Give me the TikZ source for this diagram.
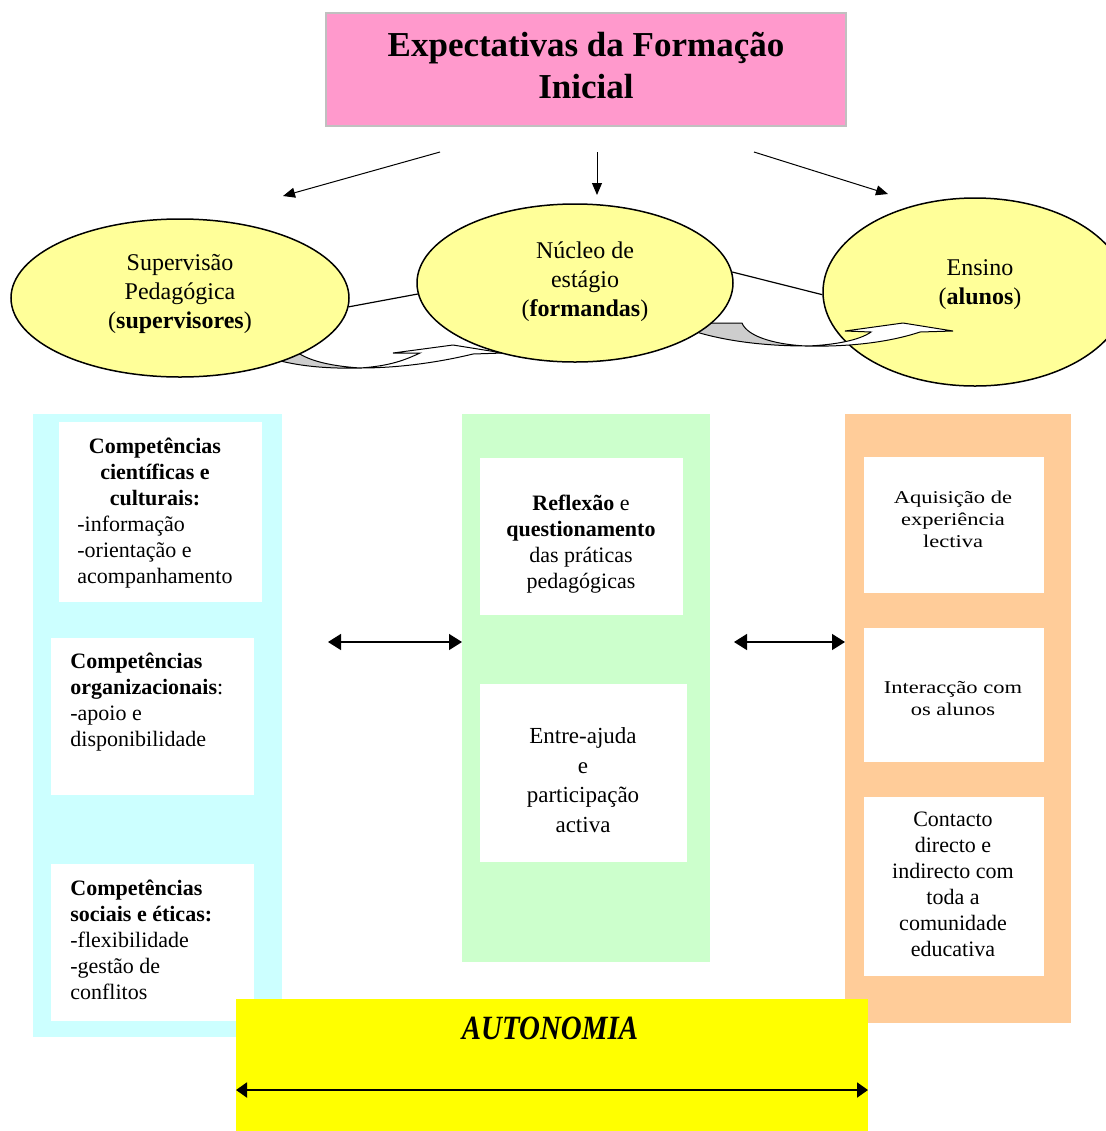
\documentclass[tikz,border=0pt]{standalone}
\usepackage{fontspec}
\setmainfont{Liberation Serif}
\newfontfamily\largo[FakeStretch=1.25]{Liberation Serif}
\newfontfamily\estreito[FakeStretch=0.85]{Liberation Serif}
\usetikzlibrary{shapes.geometric,arrows.meta}
\definecolor{rosa}{HTML}{FF99CC}
\definecolor{amarelo}{HTML}{FFFF99}
\definecolor{ciano}{HTML}{CCFFFF}
\definecolor{verde}{HTML}{CCFFCC}
\definecolor{laranja}{HTML}{FFCC99}
\definecolor{amarelao}{HTML}{FFFF00}
\definecolor{cinza}{HTML}{C0C0C0}
\newcommand{\centro}[1]{\multicolumn{1}{@{}c@{}}{#1}}
\begin{document}
\begin{tikzpicture}[x=0.5pt,y=-0.5pt,
		caixa/.style={inner sep=0pt,outer sep=0pt},
		elipse/.style={ellipse,draw,fill=amarelo,line width=0.75pt,inner sep=0pt},
		txt/.style={inner sep=0pt,align=center,font=\fontsize{11}{13}\selectfont},
		seta/.style={-{Triangle[length=6pt,width=5pt]},line width=0.5pt},
		dupla/.style={{Triangle[length=6.5pt,width=8pt]}-{Triangle[length=6.5pt,width=8pt]},line width=0.7pt}]
	% 边界
	\useasboundingbox (0,0) rectangle (1105,1131);
	% 标题
	\node[caixa,fill=rosa,draw=cinza,line width=0.6pt,minimum width=260pt,minimum height=56.5pt] (titulo) at (586,69.5) {};
	\node[txt,font=\fontsize{17.5}{21}\selectfont\bfseries] (ttitulo) at (586,65) {Expectativas da Formação\\Inicial};
	% 三个箭头
	\coordinate (s1) at (440,152); \coordinate (e1) at (283,196);
	\coordinate (s2) at (597,152); \coordinate (e2) at (597,195);
	\coordinate (s3) at (754,152); \coordinate (e3) at (888,194);
	\draw[seta] (s1) -- (e1);
	\draw[seta] (s2) -- (e2);
	\draw[seta] (s3) -- (e3);
	% 弯箭头（背面）
	\filldraw[fill=cinza!80,line width=0.5pt] (250,350) .. controls (280,365) and (320,369) .. (360,368) .. controls (330,366) and (300,360) .. (290,345) -- cycle;
	\filldraw[fill=white,line width=0.5pt] (360,368) .. controls (390,366) and (405,360) .. (420,353) -- (393,353) -- (453,345) -- (503,353) -- (473,354) .. controls (440,362) and (400,368) .. (360,368) -- cycle;
	\filldraw[fill=cinza!80,line width=0.5pt] (705,323) -- (742,323) .. controls (748,338) and (780,345) .. (807,346) .. controls (760,346) and (720,340) .. (690,330) -- cycle;
	% 椭圆
	\node[elipse,minimum width=169pt,minimum height=79pt] (sup) at (180,298) {};
	\node[elipse,minimum width=158pt,minimum height=79pt] (nuc) at (575,283) {};
	\node[elipse,minimum width=152pt,minimum height=94pt] (ens) at (975,292) {};
	\node[txt,font=\fontsize{12}{14.5}\selectfont] (tsup) at (180,294) {Supervisão\\Pedagógica\\(\textbf{supervisores})};
	\node[txt,font=\fontsize{12}{14.5}\selectfont] (tnuc) at (585,282) {Núcleo de\\estágio\\(\textbf{formandas})};
	\node[txt,font=\fontsize{12}{14.5}\selectfont] (tens) at (980,285) {Ensino\\(\textbf{alunos})};
	% 连线
	\draw[line width=0.6pt] (sup.-3) -- (nuc.184);
	\draw[line width=0.6pt] (nuc.4) -- (ens.181);
	% 弯箭头（正面）
	\filldraw[fill=white,line width=0.5pt] (807,346) .. controls (835,345) and (860,340) .. (871,332) -- (845,331) -- (903,323) -- (953,331) -- (920,332) .. controls (890,342) and (850,347) .. (807,346) -- cycle;
	% 三列
	\node[caixa,fill=ciano,minimum width=124.5pt,minimum height=311.5pt] (colA) at (157.5,725.5) {};
	\node[caixa,fill=verde,minimum width=124pt,minimum height=274pt] (colB) at (586,688) {};
	\node[caixa,fill=laranja,minimum width=113pt,minimum height=304.5pt] (colC) at (958,718.5) {};
	% 白框
	\node[caixa,fill=white,minimum width=101.5pt,minimum height=90pt] (bL1) at (160.5,512) {};
	\node[caixa,fill=white,minimum width=101.5pt,minimum height=78.5pt] (bL2) at (152.5,716.5) {};
	\node[caixa,fill=white,minimum width=101.5pt,minimum height=78.5pt] (bL3) at (152.5,942.5) {};
	\node[caixa,fill=white,minimum width=101.5pt,minimum height=78.5pt] (bC1) at (581.5,536.5) {};
	\node[caixa,fill=white,minimum width=103.5pt,minimum height=89pt] (bC2) at (583.5,773) {};
	\node[caixa,fill=white,minimum width=90pt,minimum height=68pt] (bR1) at (954,525) {};
	\node[caixa,fill=white,minimum width=90pt,minimum height=67pt] (bR2) at (954,695) {};
	\node[caixa,fill=white,minimum width=90pt,minimum height=89.5pt] (bR3) at (954,886.5) {};
	% 文字
	\node[txt,anchor=west] (tL1) at (77,513) {\begin{tabular}{@{}l@{}}\centro{\textbf{Competências}}\\ \centro{\textbf{científicas e}}\\ \centro{\textbf{culturais:}}\\ -informação\\ -orientação e\\ acompanhamento\end{tabular}};
	\node[txt,anchor=west,align=left] (tL2) at (70,702) {\textbf{Competências}\\\textbf{organizacionais}:\\-apoio e\\disponibilidade};
	\node[txt,anchor=west,align=left] (tL3) at (70,939.5) {\textbf{Competências}\\\textbf{sociais e éticas:}\\-flexibilidade\\-gestão de\\conflitos};
	\node[txt] (tC1) at (581,544.5) {\textbf{Reflexão} e\\\textbf{questionamento}\\das práticas\\pedagógicas};
	\node[txt,font=\fontsize{11.5}{14.75}\selectfont] (tC2) at (583,780) {Entre-ajuda\\e\\participação\\activa};
	\node[txt,font=\largo\fontsize{9}{11}\selectfont] (tR1) at (953,519) {Aquisição de\\experiência\\lectiva};
	\node[txt,font=\largo\fontsize{9}{11}\selectfont] (tR2) at (953,699) {Interacção com\\os alunos};
	\node[txt] (tR3) at (953,884) {Contacto\\directo e\\indirecto com\\toda a\\comunidade\\educativa};
	% 双向箭头
	\coordinate (d1) at (328,642);
	\coordinate (d2) at (734,642);
	\draw[dupla] (d1) -- (d1 -| colB.west);
	\draw[dupla] (d2) -- (d2 -| colC.west);
	% 自主
	\node[caixa,fill=amarelao,minimum width=316pt,minimum height=66pt] (auto) at (552,1065) {};
	\node[txt,font=\estreito\fontsize{17}{20}\selectfont\bfseries\itshape] (tauto) at (550,1028) {AUTONOMIA};
	\coordinate (d3) at (552,1090);
	\draw[{Triangle[length=5.5pt,width=7.5pt]}-{Triangle[length=5.5pt,width=7.5pt]},line width=1pt] (d3 -| auto.west) -- (d3 -| auto.east);
\end{tikzpicture}
\end{document}
